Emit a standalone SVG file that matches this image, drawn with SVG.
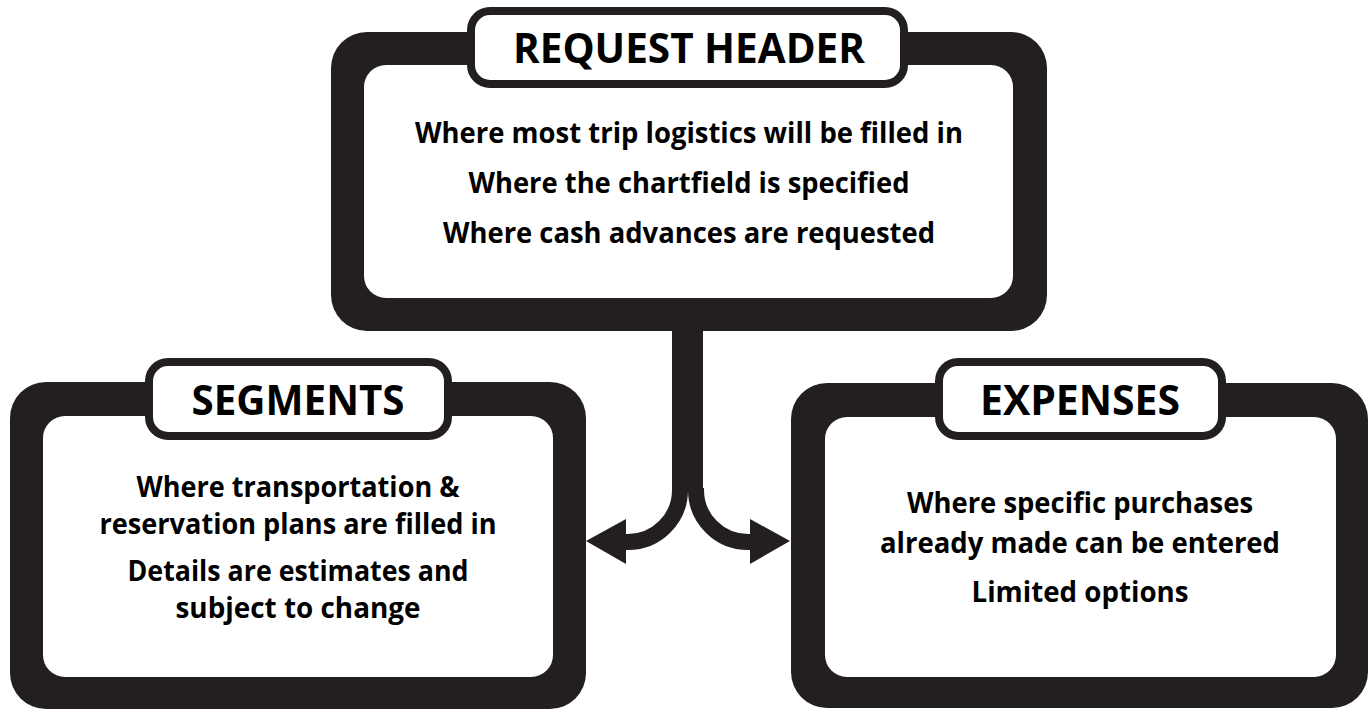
<svg xmlns="http://www.w3.org/2000/svg" width="1370" height="710" viewBox="0 0 1370 710">
  <style>
    .frame { fill: #231f20; }
    .panel { fill: #ffffff; }
    .tab { fill: #ffffff; stroke: #231f20; stroke-width: 8; }
    .title { font-family: "Open Sans", "Liberation Sans", sans-serif; font-weight: 700; font-size: 41px; fill: #000000; text-anchor: middle; }
    .body { font-family: "Open Sans", "Liberation Sans", sans-serif; font-weight: 700; font-size: 28px; fill: #000000; text-anchor: middle; }
    .branch { fill: none; stroke: #231f20; stroke-width: 16; }
    .head { fill: #231f20; }
  </style>

  <rect width="1370" height="710" fill="#ffffff"/>

  <!-- connectors: stem from the header splitting into two arrows -->
  <g id="connectors">
    <rect class="frame" x="672" y="320" width="31" height="172"/>
    <path class="branch" d="M680,488 L680,490 A52,52 0 0 1 628,542 L622,542"/>
    <path class="branch" d="M696,488 L696,490 A52,52 0 0 0 748,542 L754,542"/>
    <polygon class="head" points="626,519 626,564 586,541"/>
    <polygon class="head" points="750,519 750,564 790,541"/>
  </g>

  <!-- request header -->
  <g id="request-header">
    <rect class="frame" x="331" y="32" width="716" height="299" rx="36"/>
    <rect class="panel" x="364" y="65" width="649" height="233" rx="22"/>
    <rect class="tab" x="471" y="11" width="433" height="73" rx="19"/>
    <text class="title" x="689" y="63" textLength="352" lengthAdjust="spacingAndGlyphs">REQUEST HEADER</text>
    <text class="body" x="689" y="143" textLength="548" lengthAdjust="spacingAndGlyphs">Where most trip logistics will be filled in</text>
    <text class="body" x="689" y="193" textLength="441" lengthAdjust="spacingAndGlyphs">Where the chartfield is specified</text>
    <text class="body" x="689" y="243" textLength="492" lengthAdjust="spacingAndGlyphs">Where cash advances are requested</text>
  </g>

  <!-- segments -->
  <g id="segments">
    <rect class="frame" x="10" y="382" width="576" height="327" rx="36"/>
    <rect class="panel" x="43" y="416" width="510" height="261" rx="22"/>
    <rect class="tab" x="149" y="362" width="299" height="74" rx="19"/>
    <text class="title" x="298" y="415" textLength="213" lengthAdjust="spacingAndGlyphs">SEGMENTS</text>
    <text class="body" x="298" y="497" textLength="323" lengthAdjust="spacingAndGlyphs">Where transportation &amp;</text>
    <text class="body" x="298" y="534" textLength="397" lengthAdjust="spacingAndGlyphs">reservation plans are filled in</text>
    <text class="body" x="298" y="581" textLength="341" lengthAdjust="spacingAndGlyphs">Details are estimates and</text>
    <text class="body" x="298" y="618" textLength="245" lengthAdjust="spacingAndGlyphs">subject to change</text>
  </g>

  <!-- expenses -->
  <g id="expenses">
    <rect class="frame" x="791" y="383" width="577" height="325" rx="36"/>
    <rect class="panel" x="825" y="417" width="511" height="260" rx="22"/>
    <rect class="tab" x="939" y="362" width="283" height="74" rx="19"/>
    <text class="title" x="1080" y="415" textLength="200" lengthAdjust="spacingAndGlyphs">EXPENSES</text>
    <text class="body" x="1080" y="513" textLength="346" lengthAdjust="spacingAndGlyphs">Where specific purchases</text>
    <text class="body" x="1080" y="553" textLength="400" lengthAdjust="spacingAndGlyphs">already made can be entered</text>
    <text class="body" x="1080" y="602" textLength="217" lengthAdjust="spacingAndGlyphs">Limited options</text>
  </g>
</svg>
